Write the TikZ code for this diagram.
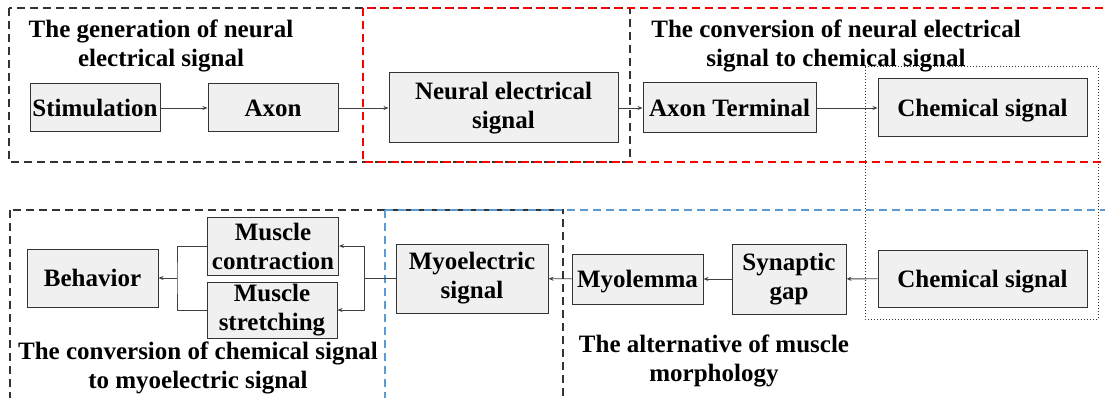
\documentclass[tikz,border=0pt]{standalone}
\usepackage{fontspec}
\setmainfont{Liberation Serif}
\usetikzlibrary{arrows.meta, positioning, calc}
\definecolor{boxfill}{HTML}{F0F0F0}
\definecolor{grpred}{HTML}{FF0000}
\definecolor{grpblue}{HTML}{5B9BD5}

\begin{document}
\begin{tikzpicture}[
  x=1pt, y=-1pt,
  every node/.style={font=\fontsize{25}{29}\selectfont\bfseries},
  blk/.style={draw=black!80, line width=1pt, fill=boxfill, inner sep=0pt, align=center},
  oneline/.style={blk, text depth=0pt},
  conn/.style={draw=black!75, line width=0.9pt},
  arr/.style={conn, -{Stealth[length=5pt, width=4pt]}},
  grp/.style={line width=1.1pt, dash pattern=on 8pt off 5pt},
  glabel/.style={align=center, inner sep=0pt}
]

\useasboundingbox (0,0) rectangle (1105,398);

% stage frames
\draw[grp, black!80] (9,8) rectangle (630,162);
\draw[grp, grpred] (363,8) rectangle (1112,162);
\draw[dotted, line width=1pt, black!80] (865,67) rectangle (1098,319);
\draw[grp, black!80] (10,210) rectangle (563,410);
\draw[grp, grpblue] (385,210) rectangle (1112,410);

\node[glabel] (lgen) at (161,46) {The generation of neural\\electrical signal};
\node[glabel] (lconv) at (836,46) {The conversion of neural electrical\\signal to chemical signal};
\node[glabel] (lmyo) at (198,368) {The conversion of chemical signal\\to myoelectric signal};
\node[glabel] (lalt) at (714,361) {The alternative of muscle\\morphology};

% upper chain
\node[oneline, minimum width=130, minimum height=48] (stim) at (95,108) {Stimulation};
\node[oneline, minimum width=130, minimum height=48] (axon) at (273,108) {Axon};
\node[blk, minimum width=229, minimum height=70] (neural) at (503.5,108) {Neural electrical\\signal};
\node[oneline, minimum width=173, minimum height=50] (axterm) at (729.5,108) {Axon Terminal};
\node[oneline, minimum width=209, minimum height=58] (chemA) at (982.5,108) {Chemical signal};

% lower chain
\node[oneline, minimum width=209, minimum height=57] (chemB) at (982.5,278.5) {Chemical signal};
\node[blk, minimum width=114, minimum height=70] (gap) at (789,279) {Synaptic\\gap};
\node[oneline, minimum width=131, minimum height=50] (myolem) at (637.5,279) {Myolemma};
\node[blk, minimum width=152, minimum height=69] (myoel) at (472,278.5) {Myoelectric\\signal};
\node[blk, minimum width=131, minimum height=58] (contr) at (273,246) {Muscle\\contraction};
\node[blk, minimum width=130, minimum height=56] (stretch) at (272,310) {Muscle\\stretching};
\node[oneline, minimum width=131, minimum height=58] (behav) at (92.5,278) {Behavior};

\coordinate (jr) at (364,278.5);
\coordinate (jl) at (177,278);

\draw[arr] (stim) -- (axon);
\draw[arr] (axon) -- (neural);
\draw[arr] (neural) -- (axterm);
\draw[arr] (axterm) -- (chemA);

\draw[arr] (chemB) -- (gap);
\draw[arr] (gap) -- (myolem);
\draw[arr] (myolem) -- (myoel);
\draw[conn] (myoel.west) -- (jr);
\draw[arr] (jr) |- (contr.east);
\draw[arr] (jr) |- (stretch.east);
\draw[conn] (contr.west) -| (jl) |- (stretch.west);
\draw[arr] (jl) -- (behav.east);

\end{tikzpicture}
\end{document}
